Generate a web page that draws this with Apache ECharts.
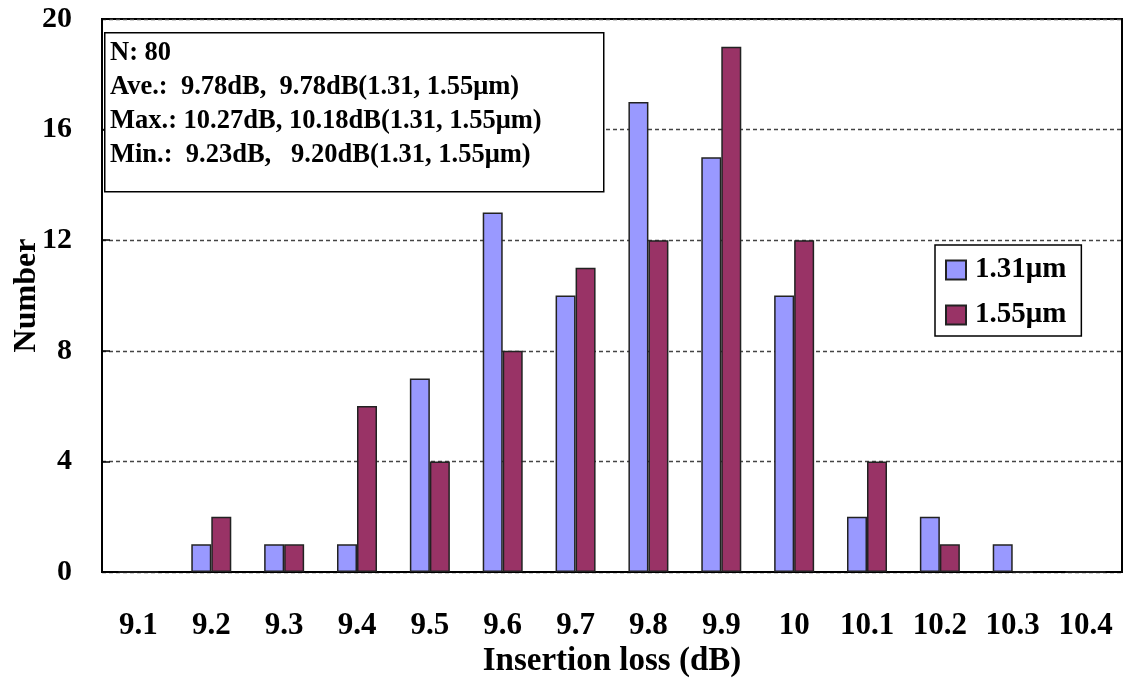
<!DOCTYPE html>
<html>
<head>
<meta charset="utf-8">
<script src="https://cdn.jsdelivr.net/npm/echarts@6/dist/echarts.min.js"></script>
<style>
html,body{margin:0;padding:0;background:#fff;}
#chart{width:1126px;height:680px;}
</style>
</head>
<body>
<div id="chart"></div>
<script>
const categories = ['9.1','9.2','9.3','9.4','9.5','9.6','9.7','9.8','9.9','10','10.1','10.2','10.3','10.4'];
const series131 = [0,1,1,1,7,13,10,17,15,10,2,2,1,0];
const series155 = [0,2,1,6,4,8,11,12,19,12,4,1,0,0];
const seriesNames = ['1.31\u03bcm','1.55\u03bcm'];
const yTicks = {min:0, max:20, interval:4};
const statLines = [
  'N: 80',
  'Ave.:  9.78dB,  9.78dB(1.31, 1.55\u03bcm)',
  'Max.: 10.27dB, 10.18dB(1.31, 1.55\u03bcm)',
  'Min.:  9.23dB,   9.20dB(1.31, 1.55\u03bcm)'
];

const FONT = "'Liberation Serif','Times New Roman',serif";
const chart = echarts.init(document.getElementById('chart'));
chart.setOption({
  animation:false,
  backgroundColor:'#fff',
  grid:{left:102, right:4, top:19, bottom:108, containLabel:false, outerBoundsMode:'none',
        show:true, borderColor:'#000', borderWidth:2, backgroundColor:'transparent'},
  legend:{
    left:935, top:245, orient:'vertical',
    borderColor:'#000', borderWidth:1.5, borderRadius:0,
    padding:[9,15,5,10], itemWidth:20, itemHeight:19, itemGap:13,
    icon:'rect',
    textStyle:{fontFamily:FONT, fontWeight:'bold', fontSize:29, color:'#000', lineHeight:32, padding:[0,0,0,4]},
    data:seriesNames
  },
  xAxis:{
    type:'category', data:categories,
    axisLine:{lineStyle:{color:'#000', width:2}},
    axisTick:{inside:true, length:9, lineStyle:{color:'#000', width:1.5}},
    axisLabel:{fontFamily:FONT, fontWeight:'bold', fontSize:31, color:'#000', margin:38, interval:0},
    name:'Insertion loss (dB)', nameLocation:'middle', nameGap:73, nameMoveOverlap:false,
    nameTextStyle:{fontFamily:FONT, fontWeight:'bold', fontSize:33, color:'#000'}
  },
  yAxis:{
    type:'value', min:yTicks.min, max:yTicks.max, interval:yTicks.interval,
    axisLine:{show:true, lineStyle:{color:'#000', width:2}},
    axisTick:{show:true, inside:true, length:8, lineStyle:{color:'#000', width:1.5}},
    axisLabel:{fontFamily:FONT, fontWeight:'bold', fontSize:30, color:'#000', margin:30},
    splitLine:{show:true, lineStyle:{color:'#444', width:1.3, type:[4,3]}},
    name:'Number', nameLocation:'middle', nameGap:59, nameRotate:90, nameMoveOverlap:false,
    nameTextStyle:{fontFamily:FONT, fontWeight:'bold', fontSize:32, color:'#000'}
  },
  series:[
    {name:seriesNames[0], type:'bar', data:series131, barWidth:20, barGap:'0%',
     itemStyle:{color:'#9999FF', borderColor:'#222', borderWidth:1.5}},
    {name:seriesNames[1], type:'bar', data:series155, barWidth:20, barGap:'0%',
     itemStyle:{color:'#993366', borderColor:'#222', borderWidth:1.5}}
  ],
  graphic:[
    {type:'rect', left:104, top:32, z:100,
     shape:{width:499, height:159},
     style:{fill:'#fff', stroke:'#000', lineWidth:1.5}},
    {type:'text', left:110, top:36, z:101,
     style:{text:statLines.join('\n'), fontFamily:FONT, fontWeight:'bold', fontSize:26.5, lineHeight:34, fill:'#000'}}
  ]
});
</script>
</body>
</html>
